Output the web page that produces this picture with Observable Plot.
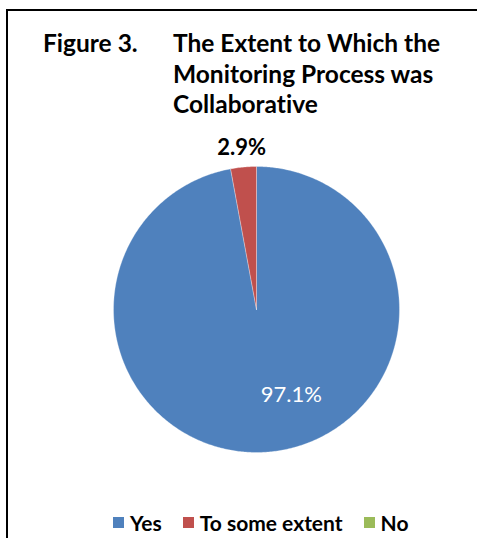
<!DOCTYPE html>
<html><head><meta charset="utf-8">
<script src="https://cdn.jsdelivr.net/npm/d3@7"></script>
<script src="https://cdn.jsdelivr.net/npm/@observablehq/plot@0.6"></script>
<style>
html,body{margin:0;padding:0;background:#fff;}
body{width:477px;height:538px;overflow:hidden;position:relative;font-family:Lato,"Open Sans",sans-serif;font-variant-ligatures:none;}
#frame{position:absolute;left:6px;top:9px;width:520px;height:600px;border-top:2px solid #000;border-left:2px solid #000;}
.title{position:absolute;font-weight:700;font-size:24.5px;line-height:30.5px;color:#000;white-space:nowrap;top:28px;font-variant-ligatures:none;}
#fig{left:43px;}
#ttl{left:173px;}
#chart{position:absolute;left:0;top:0;}
#legend{position:absolute;top:510px;left:113px;width:364px;display:flex;justify-content:flex-start;}
#legend .lg-swatches{font-family:Lato,sans-serif;font-weight:700;font-size:21px;color:#000;margin:0;min-height:0;font-variant-ligatures:none;}
#legend .lg-swatch{margin-right:21px;}
#legend .lg-swatch svg{margin-right:6px;}
</style></head>
<body>
<div id="frame"></div>
<div class="title" id="fig">Figure 3.</div>
<div class="title" id="ttl">The Extent to Which the<br>Monitoring Process was<br>Collaborative</div>
<div id="chart"></div>
<div id="legend"></div>
<script>
const categories = ["Yes", "To some extent", "No"];
const values = [97.1, 2.9, 0];
const colors = ["#4F81BD", "#C0504D", "#9BBB59"];
const labels = ["97.1%", "2.9%", ""];

const arcs = d3.pie().sort(null).value(d => d)(values);
const pts = [];
arcs.forEach((a, i) => {
  if (a.endAngle - a.startAngle <= 0) return;
  const n = Math.max(2, Math.ceil((a.endAngle - a.startAngle) / 0.01));
  pts.push({cat: categories[i], x: 0, y: 0});
  for (let k = 0; k <= n; k++) {
    const t = a.startAngle + (a.endAngle - a.startAngle) * k / n;
    pts.push({cat: categories[i], x: Math.sin(t), y: Math.cos(t)});
  }
  pts.push({cat: categories[i], x: 0, y: 0});
});
const mid = a => (a.startAngle + a.endAngle) / 2;
const inside = arcs.map((a, i) => ({label: labels[i], x: 0.6 * Math.sin(mid(a)), y: 0.6 * Math.cos(mid(a)), v: values[i]})).filter(d => d.v >= 50);
const outside = arcs.map((a, i) => ({label: labels[i], x: 1.135 * Math.sin(mid(a)), y: 1.135 * Math.cos(mid(a)), v: values[i]})).filter(d => d.v > 0 && d.v < 50);

const chart = Plot.plot({
  width: 477, height: 538,
  marginLeft: 113, marginRight: 78, marginTop: 166, marginBottom: 86,
  x: {domain: [-1, 1], axis: null},
  y: {domain: [-1, 1], axis: null},
  color: {domain: categories, range: colors},
  style: {fontFamily: "Lato, sans-serif", background: "transparent", overflow: "visible"},
  marks: [
    Plot.line(pts, {x: "x", y: "y", z: "cat", fill: "cat", stroke: "#ffffff", strokeWidth: 0.6, strokeOpacity: 0.5, curve: "linear"}),
    Plot.text(inside, {x: "x", y: "y", text: "label", fill: "white", fontSize: 22, dx: 27}),
    Plot.text(outside, {x: "x", y: "y", text: "label", fill: "black", fontSize: 22, fontWeight: "bold"})
  ]
});
document.getElementById("chart").appendChild(chart);

const leg = Plot.legend({color: {domain: categories, range: colors}, swatchSize: 11, className: "lg"});
document.getElementById("legend").appendChild(leg);
</script>
</body></html>
